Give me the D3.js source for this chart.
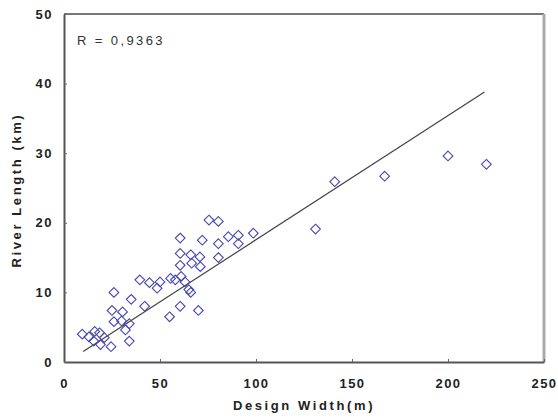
<!DOCTYPE html>
<html>
<head>
<meta charset="utf-8">
<script src="https://cdn.jsdelivr.net/npm/d3@7"></script>
<style>
  html, body { margin: 0; padding: 0; background: #fff; }
  svg { display: block; }
  .tick text { font-family: "Liberation Sans", Arial, sans-serif; font-weight: bold; font-size: 13px; fill: #222; letter-spacing: 1.5px; }
  .axis-title { font-family: "Liberation Sans", Arial, sans-serif; font-weight: bold; font-size: 13px; fill: #222; letter-spacing: 2.6px; }
  .r-label { font-family: "Liberation Sans", Arial, sans-serif; font-size: 13px; fill: #333; letter-spacing: 2.4px; }
</style>
</head>
<body>
<script>
// Design width (m) of each river reach
const designWidth = [
  9.5, 13, 16, 18.5, 15.5, 21, 19, 24.5, 26, 25, 30.5, 26, 30, 34, 32, 34, 35,
  39.5, 44.5, 42, 48.5, 50,
  55, 55.5, 58, 60.5, 60.5, 60.5, 61, 63, 60.5, 65, 66, 66, 66.5, 70.8, 71, 72,
  70, 75.5, 80.4, 80.4, 80.4, 85.6, 90.8, 90.8, 98.6,
  131, 141, 167, 200, 220
];
// Measured river length (km) for the same reaches
const riverLength = [
  4.0, 3.6, 4.4, 4.2, 3.0, 3.5, 2.5, 2.2, 10.0, 7.4, 7.2, 5.8, 5.9, 5.5, 4.6, 3.0, 9.0,
  11.8, 11.4, 8.0, 10.6, 11.5,
  6.5, 12.0, 11.8, 17.8, 15.6, 13.9, 12.3, 11.5, 8.0, 10.4, 10.0, 15.4, 14.2, 15.1, 13.7, 17.5,
  7.4, 20.4, 20.2, 17.0, 15.0, 18.0, 18.2, 17.0, 18.5,
  19.1, 25.9, 26.7, 29.6, 28.4
];
// Least-squares fit line endpoints
const fitX = [10, 219];
const fitY = [1.5, 38.8];
const correlationText = "R = 0,9363";

const xTicks = [0, 50, 100, 150, 200, 250];
const yTicks = [0, 10, 20, 30, 40, 50];

const W = 558, H = 419;
const margin = { left: 64, top: 14, right: 14, bottom: 57 };
const iw = W - margin.left - margin.right;
const ih = H - margin.top - margin.bottom;

const svg = d3.select("body").append("svg").attr("width", W).attr("height", H);
const g = svg.append("g").attr("transform", `translate(${margin.left},${margin.top})`);

const x = d3.scaleLinear().domain([0, 250]).range([0, iw]);
const y = d3.scaleLinear().domain([0, 50]).range([ih, 0]);

// Frame: light top/right edges, darker axis edges
g.append("line").attr("x1", 0).attr("x2", iw).attr("y1", 0).attr("y2", 0)
  .attr("stroke", "#777").attr("stroke-width", 2);
g.append("line").attr("x1", iw).attr("x2", iw).attr("y1", 0).attr("y2", ih)
  .attr("stroke", "#aaa").attr("stroke-width", 3);

const xAxis = g.append("g").attr("transform", `translate(0,${ih})`)
  .call(d3.axisBottom(x).tickValues(xTicks).tickSize(-3).tickPadding(17).tickSizeOuter(0));
const yAxis = g.append("g")
  .call(d3.axisLeft(y).tickValues(yTicks).tickSize(-3).tickPadding(11).tickSizeOuter(0));
[xAxis, yAxis].forEach(a => {
  a.select(".domain").attr("stroke", "#555").attr("stroke-width", 2);
  a.selectAll(".tick line").attr("stroke", "#666");
});

// Regression line
g.append("line")
  .attr("x1", x(fitX[0])).attr("y1", y(fitY[0]))
  .attr("x2", x(fitX[1])).attr("y2", y(fitY[1]))
  .attr("stroke", "#444").attr("stroke-width", 1.2);

// Observations as open diamonds
const diamond = d3.symbol().type(d3.symbolDiamond2).size(60);
g.selectAll("path.pt")
  .data(designWidth.map((d, i) => [d, riverLength[i]]))
  .join("path")
  .attr("class", "pt")
  .attr("d", diamond)
  .attr("transform", d => `translate(${x(d[0])},${y(d[1])})`)
  .attr("fill", "none")
  .attr("stroke", "#4747b0")
  .attr("stroke-width", 1.1);

g.append("text").attr("class", "r-label")
  .attr("x", 13).attr("y", 31)
  .text(correlationText);

svg.append("text").attr("class", "axis-title")
  .attr("x", margin.left + x(125)).attr("y", 410)
  .attr("text-anchor", "middle")
  .text("Design Width(m)");

svg.append("text").attr("class", "axis-title")
  .attr("transform", `translate(21,${margin.top + y(24.7)}) rotate(-90)`)
  .attr("text-anchor", "middle")
  .text("River Length (km)");
</script>
</body>
</html>
